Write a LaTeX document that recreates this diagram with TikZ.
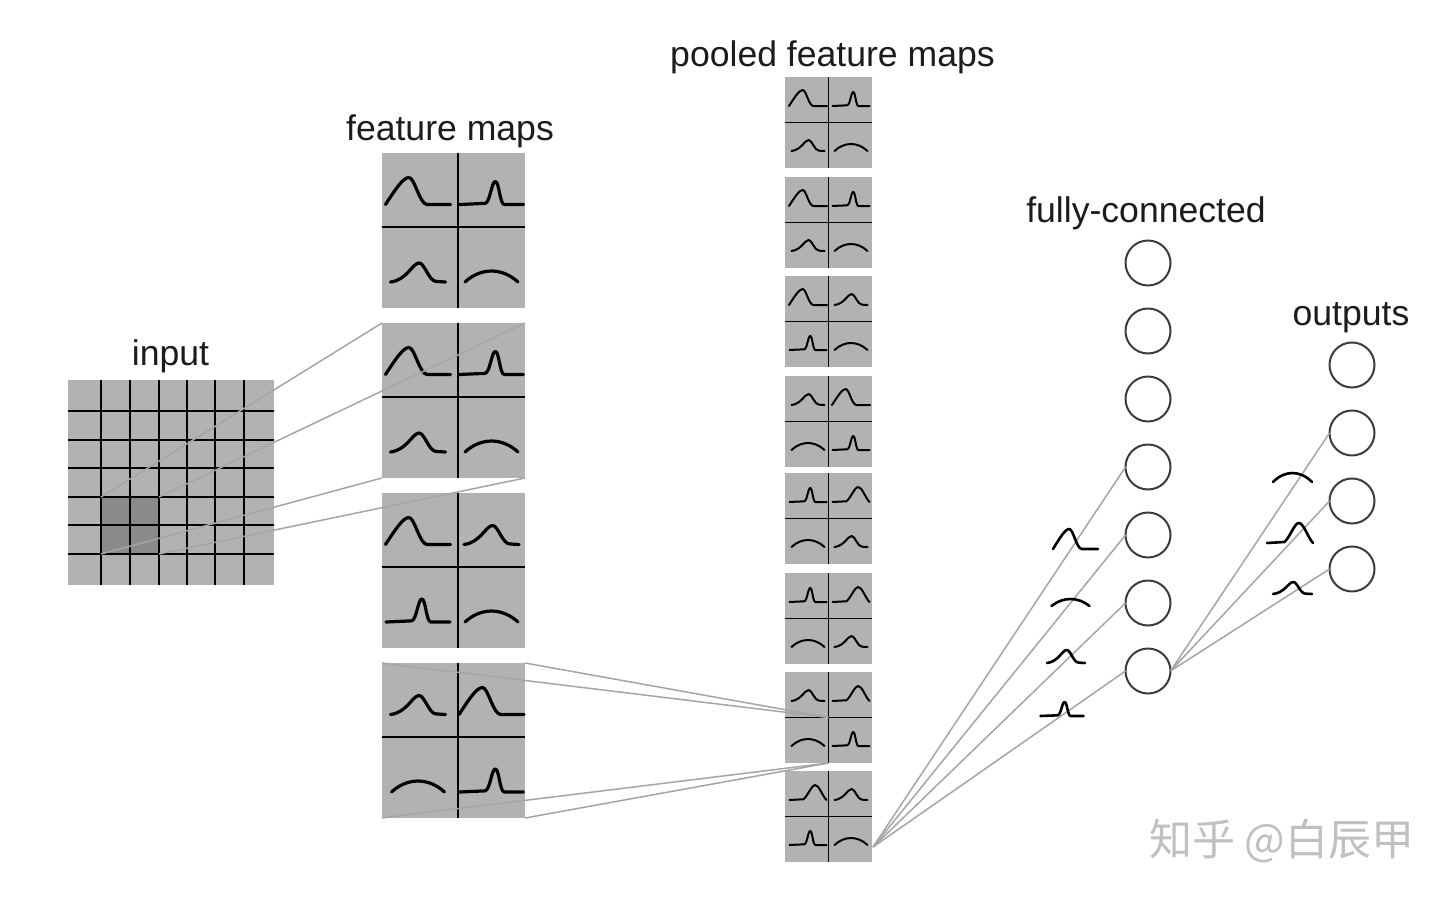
\documentclass[tikz,border=0pt]{standalone}
\usepackage{fontspec}
\setmainfont{Liberation Sans}
\newfontfamily\cjkfont{Noto Sans CJK SC}
\definecolor{boxgray}{RGB}{178,178,178}
\definecolor{patchgray}{RGB}{138,138,138}
\definecolor{linkgray}{RGB}{165,165,165}
\definecolor{txt}{RGB}{28,28,30}
\definecolor{ring}{RGB}{60,60,60}
\definecolor{wm}{RGB}{192,192,192}
\tikzset{
  crv/.style={draw=black, line cap=round, line join=round},
  gA/.pic={\draw[crv] (-0.5,0) .. controls (-0.35,-0.55) and (-0.23,-1) .. (-0.14,-1) .. controls (-0.05,-1) and (0.02,-0.02) .. (0.14,0) -- (0.5,0);},
  gB/.pic={\draw[crv] (-0.5,0) -- (-0.1,-0.05) .. controls (-0.02,-0.1) and (0,-1) .. (0.06,-1) .. controls (0.12,-1) and (0.13,0) .. (0.2,0) -- (0.5,0);},
  gC/.pic={\draw[crv] (-0.5,0) .. controls (-0.2,-0.1) and (-0.1,-1) .. (0.02,-1) .. controls (0.12,-1) and (0.2,-0.03) .. (0.33,-0.03) -- (0.5,0);},
  gD/.pic={\draw[crv] (-0.5,0) .. controls (-0.2,-1.33) and (0.2,-1.33) .. (0.5,0);},
  gE/.pic={\draw[crv] (-0.5,0) -- (-0.12,-0.05) .. controls (0,-0.3) and (0.1,-1) .. (0.19,-1) .. controls (0.3,-1) and (0.38,-0.3) .. (0.5,0);},
  fA/.style={xscale=65,yscale=27,line width=3.2pt},
  fB/.style={xscale=64,yscale=23,line width=3.2pt},
  fC/.style={xscale=55,yscale=19,line width=3.2pt},
  fD/.style={xscale=53,yscale=11,line width=3.2pt},
  pA/.style={xscale=38,yscale=16,line width=2pt},
  pB/.style={xscale=37,yscale=14,line width=2pt},
  pC/.style={xscale=33,yscale=11,line width=2pt},
  pD/.style={xscale=33,yscale=7,line width=2pt},
  pE/.style={xscale=37,yscale=15,line width=2pt},
  fmbox/.style={rectangle, fill=boxgray, minimum width=143pt, minimum height=155pt, inner sep=0pt, outer sep=0pt, anchor=north west},
  pmbox/.style={rectangle, fill=boxgray, minimum width=87pt, minimum height=91pt, inner sep=0pt, outer sep=0pt, anchor=north west},
  divline/.style={draw=black, line width=1.5pt},
  pdiv/.style={draw=black, line width=1.8pt},
  gridline/.style={draw=black, line width=1.8pt},
  link/.style={draw=linkgray, line width=1.5pt},
  neuron/.style={circle, draw=ring, line width=2pt, fill=white, minimum size=45pt, inner sep=0pt, outer sep=0pt},
  lbl/.style={anchor=base, inner sep=0pt, text=txt, font=\fontsize{35.6pt}{40pt}\selectfont},
}
\newcommand\featmap[7]{%
  \node[fmbox] (#1) at (#2,#3) {};
  \draw[divline] (#2+76,#3) -- (#2+76,#3+155);
  \draw[divline] (#2,#3+74) -- (#2+143,#3+74);
  \pic[f#4] at (#2+36,#3+51.5) {g#4};
  \pic[f#5] at (#2+109.5,#3+51.5) {g#5};
  \pic[f#6] at (#2+36,#3+129) {g#6};
  \pic[f#7] at (#2+109.5,#3+129) {g#7};
}
\newcommand\pooledmap[6]{%
  \node[pmbox] (#1) at (785,#2) {};
  \draw[pdiv] (#1.north) -- (#1.south);
  \draw[pdiv] (#1.west) -- (#1.east);
  \pic[p#3] at (808,#2+29) {g#3};
  \pic[p#4] at (851,#2+29) {g#4};
  \pic[p#5] at (808,#2+74) {g#5};
  \pic[p#6] at (851,#2+74) {g#6};
}
\begin{document}
\begin{tikzpicture}[x=1pt,y=-1pt]
\useasboundingbox (0,0) rectangle (1454,900);
\fill[white] (0,0) rectangle (1454,900);

% labels
\node[lbl] (tin) at (170.5,365) {input};
\node[lbl] (tfm) at (450,140) {feature maps};
\node[lbl] (tpm) at (832.5,66) {pooled feature maps};
\node[lbl] (tfc) at (1146,222) {fully-connected};
\node[lbl] (tout) at (1351,325) {outputs};

% input grid
\node[rectangle, fill=boxgray, minimum width=206pt, minimum height=205pt, inner sep=0pt, outer sep=0pt, anchor=north west] (inp) at (68,380) {};
\node[rectangle, fill=patchgray, minimum width=58pt, minimum height=57pt, inner sep=0pt, outer sep=0pt, anchor=north west] (patch) at (101,497) {};
\foreach \gx in {101,130,159,187,215,244} \draw[gridline] (\gx,380) -- (\gx,585);
\foreach \gy in {411,440,468,497,525,554} \draw[gridline] (68,\gy) -- (274,\gy);

% feature maps
\featmap{fm1}{382}{153}{A}{B}{C}{D}
\featmap{fm2}{382}{323}{A}{B}{C}{D}
\featmap{fm3}{382}{493}{A}{C}{B}{D}
\featmap{fm4}{382}{663}{C}{A}{D}{B}

% pooled feature maps
\pooledmap{pm1}{77}{A}{B}{C}{D}
\pooledmap{pm2}{177}{A}{B}{C}{D}
\pooledmap{pm3}{276}{A}{C}{B}{D}
\pooledmap{pm4}{376}{C}{A}{D}{B}
\pooledmap{pm5}{473}{B}{E}{D}{C}
\pooledmap{pm6}{573}{B}{E}{D}{C}
\pooledmap{pm7}{672}{C}{E}{D}{B}
\pooledmap{pm8}{771}{E}{C}{B}{D}

% neurons
\foreach \i/\yy in {1/263,2/331,3/399,4/467,5/535,6/603,7/671}
  \node[neuron] (fc\i) at (1148,\yy) {};
\foreach \i/\yy in {1/365,2/433,3/501,4/569}
  \node[neuron] (out\i) at (1352,\yy) {};

% connectors
\draw[link] (patch.north west) -- (fm2.north west);
\draw[link] (patch.north east) -- (fm2.north east);
\draw[link] (patch.south west) -- (fm2.south west);
\draw[link] (patch.south east) -- (fm2.south east);
\draw[link] (fm4.north west) -- (pm7.center);
\draw[link] (fm4.north east) -- (pm7.center);
\draw[link] (fm4.south west) -- (pm7.south);
\draw[link] (fm4.south east) -- (pm7.south);
\coordinate (src) at (873,847);
\foreach \i in {4,5,6,7} \draw[link] (src) -- (fc\i.west);
\foreach \i in {2,3,4} \draw[link] (fc7.east) -- (out\i.west);

% glyphs beside connectors
\pic[xscale=45,yscale=20,line width=2.6pt] at (1075.5,549) {gA};
\pic[xscale=38,yscale=7,line width=2.6pt] at (1070.5,606) {gD};
\pic[xscale=38,yscale=13,line width=2.6pt] at (1066,663) {gC};
\pic[xscale=43,yscale=14,line width=2.6pt] at (1062,716) {gB};
\pic[xscale=39,yscale=9,line width=2.6pt] at (1292.5,482) {gD};
\pic[xscale=46,yscale=20,line width=2.6pt] at (1290,543) {gE};
\pic[xscale=39,yscale=12,line width=2.6pt] at (1292.5,594) {gC};

% watermark
\node[anchor=center, inner sep=0pt, text=wm, font=\cjkfont\fontsize{43pt}{47pt}\selectfont] (wmk) at (1282,841) {知乎 @白辰甲};
\end{tikzpicture}
\end{document}
